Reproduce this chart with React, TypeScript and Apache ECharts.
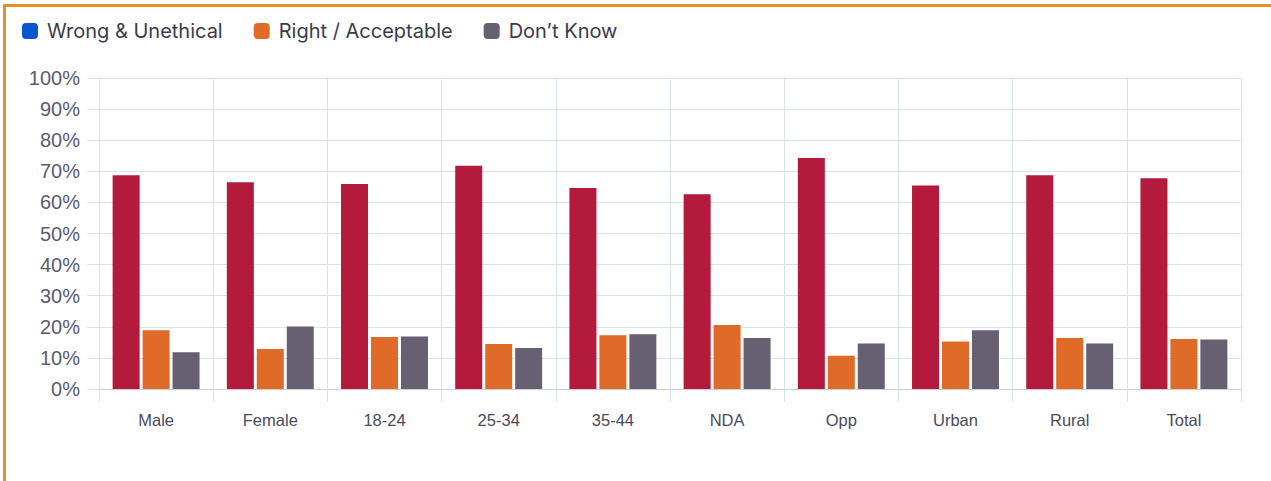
import React, { useEffect, useRef } from "react";
import * as echarts from "echarts";

const categories = ["Male", "Female", "18-24", "25-34", "35-44", "NDA", "Opp", "Urban", "Rural", "Total"];
const wrongUnethical = [68.7, 66.5, 65.9, 71.8, 64.6, 62.6, 74.3, 65.4, 68.7, 67.8];
const rightAcceptable = [18.9, 12.9, 16.7, 14.5, 17.3, 20.6, 10.7, 15.3, 16.4, 16.1];
const dontKnow = [11.8, 20.1, 16.9, 13.2, 17.6, 16.4, 14.6, 18.9, 14.6, 15.9];
const seriesNames = ["Wrong & Unethical", "Right / Acceptable", "Don\u2019t Know"];
const barColors = ["#b31a3c", "#e06a28", "#676073"];
const legendColors = ["#0b57d0", "#e06a28", "#676073"];

export default function App() {
  const ref = useRef<HTMLDivElement>(null);
  useEffect(() => {
    if (!ref.current) return;
    const chart = echarts.init(ref.current, undefined, { renderer: "svg" });
    const gridColor = "#d5e4e8";
    const datas = [wrongUnethical, rightAcceptable, dontKnow];
    chart.setOption({
      animation: false,
      backgroundColor: "#ffffff",
      graphic: [
        { type: "rect", shape: { x: 3, y: 4, width: 1268, height: 3 }, style: { fill: "#e8902a" } },
        { type: "rect", shape: { x: 3, y: 4, width: 3, height: 477 }, style: { fill: "#e8902a" } },
      ],
      legend: {
        left: 22,
        top: 21,
        padding: 0,
        icon: "roundRect",
        itemWidth: 16,
        itemHeight: 16,
        itemGap: 31,
        textStyle: {
          fontFamily: "Inter, 'Noto Sans', sans-serif",
          fontSize: 20,
          color: "#3b3b4c",
          padding: [0, 0, 0, 4],
        },
        data: seriesNames.map((n, i) => ({ name: n, itemStyle: { color: legendColors[i] } })),
      },
      grid: { left: 99, right: 30, top: 78, bottom: 92, containLabel: false },
      xAxis: {
        type: "category",
        data: categories,
        axisLine: { show: true, lineStyle: { color: "#c9ced8", width: 1 } },
        axisTick: { show: true, length: 13, lineStyle: { color: gridColor } },
        splitLine: { show: true, interval: 0, lineStyle: { color: gridColor, width: 1 } },
        axisLabel: {
          margin: 22,
          fontSize: 16.5,
          color: "#4a4a5c",
          fontFamily: "'Liberation Sans', Arial, sans-serif",
        },
      },
      yAxis: {
        type: "value",
        min: 0,
        max: 100,
        interval: 10,
        axisLine: { show: true, lineStyle: { color: gridColor } },
        axisTick: { show: true, length: 12, lineStyle: { color: gridColor } },
        splitLine: { show: true, lineStyle: { color: gridColor, width: 1 } },
        axisLabel: {
          formatter: "{value}%",
          margin: 19,
          fontSize: 20,
          color: "#5b5b70",
          fontFamily: "'Liberation Sans', Arial, sans-serif",
        },
      },
      series: seriesNames.map((n, i) => ({
        name: n,
        type: "bar",
        data: datas[i],
        barWidth: 27,
        barGap: "11%",
        itemStyle: { color: barColors[i] },
      })),
    });
    return () => chart.dispose();
  }, []);
  return <div ref={ref} style={{ position: "fixed", left: 0, top: 0, width: 1271, height: 481 }} />;
}
